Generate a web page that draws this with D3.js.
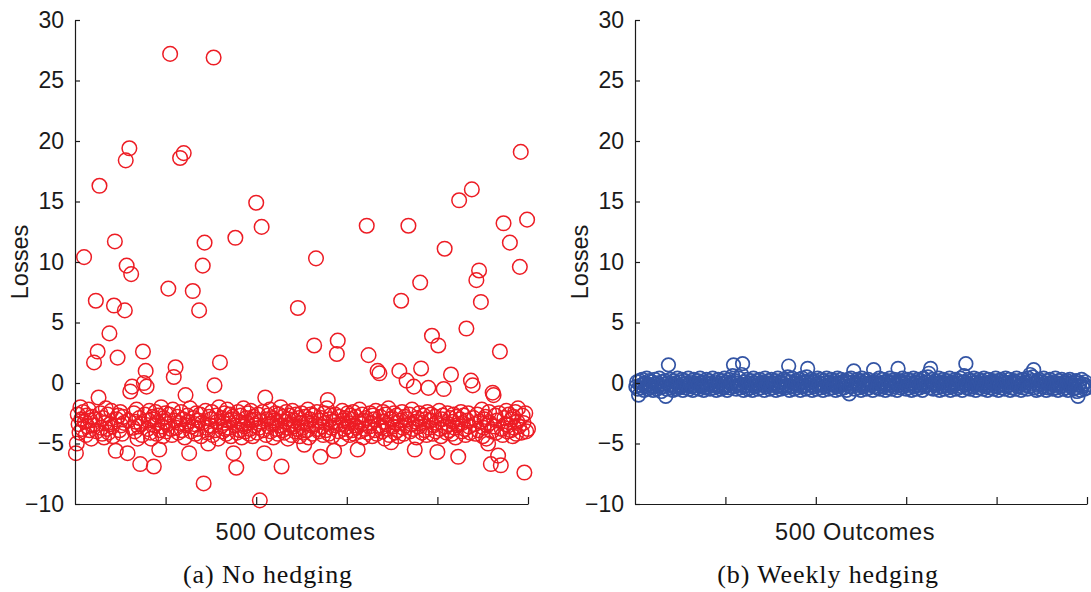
<!DOCTYPE html>
<html>
<head>
<meta charset="utf-8">
<script src="https://cdn.jsdelivr.net/npm/d3@7"></script>
<style>
    body { margin: 0; background: #fff; }
    .axis path, .axis line { stroke: #1a1a1a; stroke-width: 1.2px; }
    .axis text { font-family: 'Liberation Sans', Arial, sans-serif; font-size: 23px; fill: #1a1a1a; }
    .axis-label { font-family: 'Liberation Sans', Arial, sans-serif; font-size: 23.5px; fill: #1a1a1a; }
    .caption { font-family: 'Liberation Serif', 'Times New Roman', serif; font-size: 26px; fill: #111; letter-spacing: 0.9px; }
</style>
</head>
<body>
<div id="chart"></div>
<script>
// Losses of 500 simulated outcomes (outcome i = index + 1)
const lossesNoHedging = [
    -5.8, -5.0, -2.6, -3.4, -4.1, -2.0, -3.0, -3.8, -2.4, 10.4,
    -3.2, -4.3, -2.7, -3.6, -2.2, -3.9, -3.1, -4.6, -2.8, -3.5,
    1.7, -3.0, 6.8, -4.0, 2.6, -1.2, 16.3, -2.5, -3.7, -4.2,
    -2.9, -4.5, -3.3, -2.1, -3.8, -2.6, -4.1, 4.1, -3.4, -2.3,
    -3.6, -4.4, 6.4, 11.7, -5.6, -3.0, 2.1, -2.7, -3.9, -2.4,
    -3.5, -4.2, -2.8, -3.3, 6.0, 18.4, 9.7, -5.8, -3.1, 19.4,
    -0.7, 9.0, -0.3, -3.7, -2.5, -4.0, -3.2, -2.2, -4.6, -3.6,
    -2.9, -6.7, -3.4, -4.3, 2.6, 0.0, -2.6, 1.0, -0.3, -3.8,
    -3.1, -2.3, -4.1, -4.6, -3.0, -2.8, -6.9, -3.5, -2.4, -4.2,
    -3.3, -2.7, -5.5, -3.9, -2.0, -3.6, -4.4, -2.9, -3.2, -2.5,
    -4.0, -3.4, 7.8, -2.6, 27.2, -3.8, -4.3, -2.2, 0.5, -3.1,
    1.3, -3.7, -2.8, -4.1, -3.3, 18.6, -2.4, -3.9, -3.0, 19.0,
    -4.5, -1.0, -3.5, -2.7, -3.2, -5.8, -2.1, -4.0, -3.6, 7.6,
    -2.9, -3.4, -4.2, -2.5, -3.8, -3.1, 6.0, -2.6, -4.4, -3.3,
    9.7, -8.3, 11.6, -2.3, -3.7, -4.1, -5.0, -2.8, -3.5, -3.0,
    -2.4, -4.3, 26.9, -0.2, -3.9, -2.7, -3.2, -4.6, -2.0, 1.7,
    -3.6, -2.9, -4.0, -3.3, -2.5, -3.8, -4.2, -2.2, -3.1, -3.7,
    -2.6, -4.4, -3.0, -2.8, -5.8, -3.5, 12.0, -7.0, -4.1, -2.4,
    -3.2, -3.9, -2.7, -4.5, -3.4, -2.1, -3.6, -4.0, -2.9, -3.3,
    -2.5, -4.2, -3.8, -2.3, -3.1, -4.4, -2.8, -3.5, -3.0, 14.9,
    -4.1, -2.6, -3.7, -9.7, -3.2, 12.9, -2.4, -3.9, -5.8, -1.2,
    -4.3, -3.0, -2.7, -3.6, -2.2, -4.0, -3.4, -2.9, -4.5, -3.1,
    -2.5, -3.8, -3.3, -4.2, -2.6, -3.5, -2.0, -6.9, -3.9, -2.8,
    -4.1, -3.2, -2.4, -3.7, -4.6, -3.0, -2.7, -3.4, -4.3, -2.3,
    -3.6, -3.1, -4.0, -2.6, -3.8, 6.2, -2.9, -4.4, -3.3, -2.5,
    -3.7, -4.1, -5.1, -2.8, -3.2, -3.9, -2.2, -4.5, -3.0, -2.6,
    -3.5, -4.2, -2.7, 3.1, -3.4, 10.3, -2.4, -3.8, -4.0, -3.1,
    -6.1, -2.9, -3.6, -4.3, -2.5, -3.3, -3.9, -2.1, -1.4, -4.2,
    -3.0, -2.7, -3.7, -4.4, -3.2, -5.6, -2.6, -3.5, 2.4, 3.5,
    -4.0, -2.8, -3.4, -4.6, -2.3, -3.1, -3.8, -2.9, -4.1, -3.6,
    -2.5, -3.3, -4.3, -2.7, -3.0, -3.9, -2.4, -4.2, -3.5, -2.8,
    -3.7, -5.5, -3.2, -2.2, -4.0, -3.4, -2.6, -4.5, -3.1, -3.8,
    -2.9, 13.0, -4.1, 2.3, -3.6, -2.5, -3.3, -4.4, -2.7, -3.0,
    -3.9, -2.3, -4.2, 1.0, -3.5, 0.8, -2.8, -3.7, -4.0, -2.4,
    -3.2, -4.6, -2.6, -3.4, -3.8, -2.1, -4.3, -3.0, -4.9, -2.9,
    -3.6, -2.5, -4.1, -3.3, -2.7, -3.9, -4.4, 1.0, -3.1, 6.8,
    -2.4, -3.7, -4.2, -2.8, -3.5, 0.2, -3.0, 13.0, -2.6, -4.0,
    -3.4, -2.2, -3.8, -0.3, -5.5, -3.2, -4.5, -2.9, -3.6, -2.5,
    8.3, 1.2, -4.1, -3.3, -2.7, -3.9, -3.0, -4.3, -2.4, -0.4,
    -3.7, -3.1, -2.6, 3.9, -4.2, -3.5, -2.8, -4.0, -3.3, -5.7,
    3.1, -2.3, -3.8, -4.4, -3.0, -2.7, -0.5, 11.1, -3.6, -4.1,
    -2.5, -3.4, -3.9, -2.9, 0.7, -4.2, -3.2, -2.6, -3.7, -4.5,
    -2.8, -3.5, -6.1, 15.1, -3.0, -2.4, -4.0, -3.3, -2.7, -3.8,
    -4.3, 4.5, -3.1, -2.5, -3.6, -4.1, 0.2, 16.0, -0.2, -2.9,
    -3.4, -4.2, 8.5, -2.6, -3.9, 9.3, -3.2, 6.7, -2.2, -4.4,
    -3.7, -3.0, -2.8, -4.6, -3.5, -5.0, -2.4, -3.3, -6.7, -4.0,
    -0.8, -1.0, -3.6, -2.7, -4.1, -3.1, -6.0, -2.5, 2.6, -6.8,
    -3.8, -4.3, 13.2, -2.9, -3.4, -2.3, -4.0, -3.5, -2.6, 11.6,
    -3.9, -3.0, -4.4, -2.8, -3.7, -2.4, -4.2, -3.2, -2.1, -3.6,
    9.6, 19.1, -4.1, -2.7, -3.3, -7.4, -2.5, -4.0, 13.5, -3.8
];

const lossesWeeklyHedging = [
    -0.3, 0.1, -0.5, -1.0, 0.2, -0.2, -0.4, 0.3, -0.1, -0.6,
    0.0, -0.3, 0.4, -0.5, -0.1, 0.2, -0.4, -0.2, 0.1, -0.6,
    -0.3, 0.3, -0.1, -0.5, 0.0, -0.2, 0.4, -0.4, -0.7, 0.1,
    -0.3, -0.1, 0.2, -1.1, -0.5, 0.0, 1.5, -0.2, 0.3, -0.4,
    -0.1, -0.6, 0.2, -0.3, 0.0, -0.5, 0.4, -0.2, -0.4, 0.1,
    -0.3, 0.3, -0.6, -0.1, 0.2, -0.4, 0.0, -0.2, 0.4, -0.5,
    -0.1, 0.1, -0.3, -0.6, 0.3, -0.2, 0.0, -0.4, 0.2, -0.1,
    -0.5, 0.4, -0.3, 0.0, -0.2, -0.6, 0.1, -0.4, 0.3, -0.1,
    -0.3, 0.2, -0.5, 0.0, -0.2, 0.4, -0.4, -0.1, 0.1, -0.6,
    -0.3, 0.3, -0.2, 0.0, -0.5, 0.2, -0.1, -0.4, 0.4, -0.3,
    0.1, -0.6, -0.2, 0.3, -0.4, 0.0, -0.1, 0.6, 1.5, -0.3,
    0.2, -0.5, 0.0, -0.2, 0.4, -0.4, -0.1, 0.7, 1.6, -0.6,
    -0.3, 0.1, -0.2, 0.3, -0.5, 0.0, -0.4, 0.2, -0.1, -0.6,
    0.4, -0.3, 0.0, -0.2, 0.2, -0.5, -0.1, 0.3, -0.4, 0.0,
    -0.2, 0.1, -0.6, 0.4, -0.3, 0.0, -0.1, 0.2, -0.5, -0.2,
    0.3, -0.4, 0.0, -0.1, 0.2, -0.6, -0.3, 0.4, -0.2, 0.1,
    -0.5, 0.0, -0.3, 0.3, -0.1, -0.4, 0.2, -0.2, 0.5, 1.4,
    -0.6, 0.1, -0.3, 0.4, -0.1, -0.5, 0.0, 0.2, -0.4, -0.2,
    0.3, -0.1, -0.6, 0.0, 0.4, -0.3, -0.2, 0.1, -0.5, 0.5,
    1.2, -0.4, 0.0, -0.2, 0.3, -0.6, 0.1, -0.3, 0.2, -0.1,
    -0.5, 0.4, -0.2, 0.0, -0.4, 0.3, -0.1, -0.6, 0.2, -0.3,
    0.0, 0.4, -0.2, -0.5, 0.1, -0.1, 0.3, -0.4, 0.0, -0.2,
    0.2, -0.6, -0.3, 0.4, -0.1, 0.0, -0.5, 0.3, -0.2, 0.1,
    -0.4, 0.2, -0.1, -0.6, 0.0, 0.3, -0.9, -0.3, 0.4, -0.2,
    0.1, 1.0, -0.5, 0.0, -0.2, 0.3, -0.4, -0.1, 0.2, -0.6,
    0.4, -0.3, 0.0, -0.2, 0.2, -0.5, -0.1, 0.3, -0.4, 0.0,
    -0.2, 0.1, -0.6, 1.1, -0.3, 0.0, 0.2, -0.4, -0.1, 0.4,
    -0.5, 0.0, -0.2, 0.3, -0.3, 0.1, -0.6, -0.1, 0.2, -0.4,
    0.0, 0.4, -0.2, -0.5, 0.1, -0.3, 0.3, -0.1, 0.0, -0.6,
    1.2, -0.2, 0.2, -0.4, 0.0, 0.4, -0.3, -0.1, 0.1, -0.5,
    -0.2, 0.3, -0.4, 0.0, 0.2, -0.6, -0.1, 0.4, -0.3, 0.1,
    -0.5, 0.0, 0.3, -0.2, -0.4, 0.2, -0.1, -0.6, 0.4, 0.0,
    -0.3, 0.1, -0.2, 0.5, 0.8, -0.4, 1.2, -0.1, 0.3, -0.5,
    0.0, -0.2, 0.2, -0.4, -0.1, 0.4, -0.6, 0.0, -0.3, 0.1,
    0.3, -0.5, -0.2, 0.0, 0.2, -0.4, -0.1, 0.4, -0.6, -0.3,
    0.1, 0.0, -0.2, 0.3, -0.5, -0.1, 0.2, -0.4, 0.0, 0.4,
    -0.3, -0.6, 0.1, 0.6, -0.2, 1.6, -0.4, 0.0, 0.3, -0.1,
    -0.5, 0.2, -0.3, 0.0, 0.4, -0.2, -0.6, 0.1, -0.1, 0.3,
    -0.4, 0.0, -0.2, 0.2, -0.5, 0.4, -0.1, -0.3, 0.0, -0.6,
    0.3, -0.2, 0.1, -0.4, 0.0, 0.2, -0.5, -0.1, 0.4, -0.3,
    0.0, -0.6, 0.2, -0.2, 0.3, -0.4, -0.1, 0.1, -0.5, 0.4,
    -0.3, 0.0, -0.2, 0.3, -0.6, 0.1, -0.4, 0.0, 0.2, -0.1,
    -0.5, 0.4, -0.3, 0.0, -0.2, 0.2, -0.6, -0.1, 0.3, -0.4,
    0.1, -0.2, 0.0, -0.5, 0.4, -0.3, 0.7, -0.1, 0.2, 0.5,
    1.1, -0.4, 0.0, -0.6, 0.2, -0.2, 0.3, -0.5, -0.1, 0.1,
    -0.3, 0.4, -0.2, 0.0, -0.6, 0.2, -0.4, -0.1, 0.3, -0.3,
    0.0, -0.5, 0.1, -0.2, 0.4, -0.4, 0.0, -0.6, 0.2, -0.1,
    -0.3, 0.3, -0.2, -0.5, 0.0, 0.1, -0.4, 0.2, -0.6, -0.1,
    0.3, -0.3, 0.0, -0.2, -0.5, 0.1, -0.4, 0.2, -0.7, -1.1,
    -0.2, 0.0, -0.6, 0.3, -0.3, -0.1, -0.5, 0.1, -0.2, -0.4
];

const yTicks = [-10, -5, 0, 5, 10, 15, 20, 25, 30];
const xTicks = [100, 200, 300, 400, 500];
const xLabel = '500 Outcomes';
const yLabel = 'Losses';

const panels = [
    { values: lossesNoHedging, left: 75, right: 528, color: '#ed1c24', r: 7.3, sw: 1.5, caption: '(a) No hedging', captionX: 268 },
    { values: lossesWeeklyHedging, left: 635, right: 1087, color: '#3354a4', r: 6.8, sw: 1.7, caption: '(b) Weekly hedging', captionX: 828 }
];

const width = 1091, height = 592;
const plotTop = 20, plotBottom = 504;

const svg = d3.select('#chart')
    .append('svg')
    .attr('width', width)
    .attr('height', height)
    .style('background', '#fff');

panels.forEach(p => {
    const x = d3.scaleLinear().domain([0, 500]).range([p.left, p.right]);
    const y = d3.scaleLinear().domain([-10, 30]).range([plotBottom, plotTop]);

    const g = svg.append('g');

    // markers first, axes on top like the original
    g.append('g')
        .selectAll('circle')
        .data(p.values)
        .enter()
        .append('circle')
        .attr('cx', (d, i) => x(i + 1))
        .attr('cy', d => y(d))
        .attr('r', p.r)
        .attr('fill', 'none')
        .attr('stroke', p.color)
        .attr('stroke-width', p.sw);

    g.append('g')
        .attr('class', 'axis')
        .attr('transform', `translate(${p.left},0)`)
        .call(d3.axisLeft(y)
            .tickValues(yTicks)
            .tickSizeInner(-5)
            .tickSizeOuter(0)
            .tickPadding(11));

    g.append('g')
        .attr('class', 'axis')
        .attr('transform', `translate(0,${plotBottom})`)
        .call(d3.axisBottom(x)
            .tickValues(xTicks)
            .tickSizeInner(-7)
            .tickSizeOuter(0)
            .tickFormat(''));

    g.append('text')
        .attr('class', 'axis-label')
        .attr('text-anchor', 'middle')
        .attr('x', (p.left + p.right) / 2 - 6)
        .attr('y', 540)
        .style('letter-spacing', '0.6px')
        .text(xLabel);

    g.append('text')
        .attr('class', 'axis-label')
        .attr('text-anchor', 'middle')
        .attr('transform', `translate(${p.left - 47},${(plotTop + plotBottom) / 2}) rotate(-90)`)
        .text(yLabel);

    g.append('text')
        .attr('class', 'caption')
        .attr('text-anchor', 'middle')
        .attr('x', p.captionX)
        .attr('y', 583)
        .text(p.caption);
});
</script>
</body>
</html>
